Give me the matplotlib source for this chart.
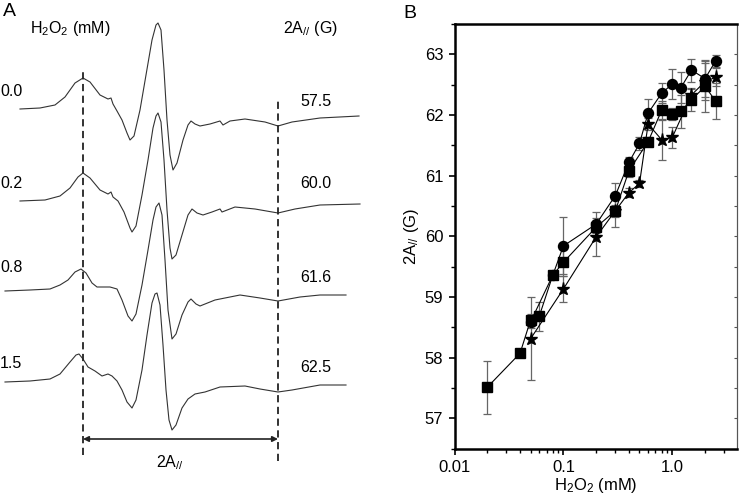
import numpy as np
import matplotlib
matplotlib.use("Agg")
import matplotlib.pyplot as plt
from matplotlib.ticker import FixedLocator, FixedFormatter, NullFormatter, LogLocator

plt.rcParams["font.family"] = ["Liberation Sans", "DejaVu Sans"]
plt.rcParams["mathtext.fontset"] = "custom"
plt.rcParams["mathtext.rm"] = "Liberation Sans"
plt.rcParams["mathtext.it"] = "Liberation Sans:italic"

# ---- panel A: EPR spectra (field in a.u., amplitude relative to left baseline)
conc_labels = ["0.0", "0.2", "0.8", "1.5"]
a_par_labels = ["57.5", "60.0", "61.6", "62.5"]

field_00 = [20, 40, 55, 65, 75, 83, 90, 100, 108, 111, 113, 117, 122, 127, 130, 134, 140, 146, 152, 156,
            158, 161, 164, 167, 170, 173, 177, 183, 188, 191, 195, 200, 210, 220, 223, 230, 245, 265,
            278, 292, 320, 359]
amp_00 = [0, 1, 4, 12, 26, 31, 27, 14, 10, 11, 5, -2, -11, -24, -31, -27, -1, 34, 69, 84,
          86, 79, 39, -11, -46, -61, -54, -31, -16, -12, -15, -17, -15, -12, -16, -12, -10, -13,
          -17, -13, -9, -7]

field_02 = [20, 45, 60, 70, 78, 83, 90, 100, 108, 111, 113, 118, 124, 130, 132, 136, 142, 148, 153, 156,
            158, 161, 164, 167, 170, 172, 176, 182, 188, 192, 197, 203, 212, 220, 222, 235, 255, 278,
            295, 320, 360]
amp_02 = [0, 1, 5, 13, 24, 28, 23, 11, 7, 9, 4, 0, -11, -27, -31, -25, 6, 41, 73, 85,
          88, 79, 41, -9, -47, -58, -54, -34, -14, -8, -12, -14, -11, -8, -11, -6, -8, -12,
          -8, -4, -3]

field_08 = [5, 30, 50, 60, 68, 75, 81, 86, 92, 97, 110, 117, 122, 128, 132, 136, 142, 148, 153, 156,
            159, 162, 165, 168, 172, 176, 182, 188, 191, 196, 200, 215, 240, 260, 278, 300, 320, 346]
amp_08 = [0, 1, 2, 6, 11, 19, 22, 18, 8, 4, 4, 2, -9, -25, -30, -23, 6, 41, 71, 84,
          88, 76, 31, -19, -48, -43, -24, -11, -8, -13, -15, -9, -4, -7, -10, -6, -4, -4]

field_15 = [5, 30, 50, 60, 70, 76, 79, 83, 88, 95, 102, 108, 112, 117, 122, 127, 132, 136, 142, 147,
            152, 155, 157, 160, 163, 166, 169, 172, 176, 182, 188, 195, 205, 220, 245, 260, 278, 292,
            320, 346]
amp_15 = [0, 1, 3, 8, 20, 27, 28, 23, 15, 11, 6, 8, 6, 1, -8, -20, -26, -18, 12, 47,
          79, 88, 89, 77, 37, -8, -38, -48, -43, -26, -17, -12, -10, -5, -4, -7, -10, -8,
          -3, -3]

# ---- panel B: 2A// vs H2O2
x_circ = [0.05, 0.08, 0.1, 0.2, 0.3, 0.4, 0.5, 0.6, 0.8, 1.0, 1.2, 1.5, 2.0, 2.5]
y_circ = [58.59, 59.36, 59.84, 60.20, 60.67, 61.22, 61.53, 62.03, 62.36, 62.51, 62.45, 62.74, 62.60, 62.89]
e_circ = [0.10, 0.05, 0.47, 0.20, 0.20, 0.08, 0.10, 0.24, 0.17, 0.25, 0.26, 0.19, 0.30, 0.10]

x_sq = [0.02, 0.04, 0.05, 0.06, 0.08, 0.1, 0.2, 0.3, 0.4, 0.6, 0.8, 1.0, 1.2, 1.5, 2.0, 2.5]
y_sq = [57.51, 58.07, 58.62, 58.68, 59.36, 59.57, 60.15, 60.42, 61.08, 61.56, 62.08, 62.02, 62.06, 62.25, 62.47, 62.23]
e_sq = [0.44, 0.05, 0.10, 0.24, 0.05, 0.22, 0.10, 0.26, 0.10, 0.08, 0.15, 0.10, 0.27, 0.19, 0.42, 0.29]

x_star = [0.05, 0.1, 0.2, 0.3, 0.4, 0.5, 0.6, 0.8, 1.0, 1.5, 2.0, 2.5]
y_star = [58.31, 59.13, 59.99, 60.42, 60.72, 60.87, 61.85, 61.59, 61.63, 62.33, 62.55, 62.62]
e_star = [0.68, 0.22, 0.31, 0.10, 0.08, 0.06, 0.10, 0.33, 0.17, 0.10, 0.30, 0.15]

fig = plt.figure(figsize=(7.39, 4.95), dpi=100)

# panel A drawn in a pixel-sized frame
axA = fig.add_axes([0, 0, 380 / 739, 1])
axA.set_xlim(0, 380)
axA.set_ylim(0, 495)
axA.axis("off")

offsets = [386, 294, 204, 113]
traces = [(field_00, amp_00), (field_02, amp_02), (field_08, amp_08), (field_15, amp_15)]
for (fx, fy), off in zip(traces, offsets):
    axA.plot(fx, np.array(fy) + off, color="#333333", lw=0.8)

axA.plot([83, 83], [40, 427], color="#222222", lw=1.3, ls=(0, (4, 2.5)))
axA.plot([278, 278], [34, 397], color="#222222", lw=1.3, ls=(0, (4, 2.5)))
axA.annotate("", xy=(278, 56), xytext=(83, 56),
             arrowprops=dict(arrowstyle="<|-|>", color="#222222", lw=1.2,
                             mutation_scale=8, shrinkA=0, shrinkB=0))
axA.text(170, 32, r"2A$_{\mathit{//}}$", ha="center", va="center", fontsize=11.5)

axA.text(3, 483, "A", ha="left", va="center", fontsize=14)
axA.text(70, 466, r"H$_2$O$_2$ (mM)", ha="center", va="center", fontsize=11.5)
axA.text(310, 466, r"2A$_{\mathit{//}}$ (G)", ha="center", va="center", fontsize=11.5)
for lab, yy in zip(conc_labels, [404, 312, 227, 131]):
    axA.text(0, yy, lab, ha="left", va="center", fontsize=11.5)
for lab, yy in zip(a_par_labels, [393, 311, 218, 128]):
    axA.text(316, yy, lab, ha="center", va="center", fontsize=11.5)

# panel B
axB = fig.add_axes([454.5 / 739, 46.5 / 495, (737 - 454.5) / 739, (471 - 46.5) / 495])
ekw = dict(ecolor="#666666", elinewidth=0.9, capsize=2.6, capthick=0.9)
axB.errorbar(x_sq, y_sq, yerr=e_sq, fmt="s", color="black", ms=6.8, lw=0.8, ls="-", **ekw)
axB.errorbar(x_star, y_star, yerr=e_star, fmt="*", color="black", ms=9.5, lw=0.8, ls="-", **ekw)
axB.errorbar(x_circ, y_circ, yerr=e_circ, fmt="o", color="black", ms=7.2, lw=0.8, ls="-", **ekw)

axB.set_xscale("log")
axB.set_xlim(0.01, 3.93)
axB.set_ylim(56.5, 63.5)
axB.xaxis.set_major_locator(FixedLocator([0.01, 0.1, 1.0]))
axB.xaxis.set_major_formatter(FixedFormatter(["0.01", "0.1", "1.0"]))
axB.xaxis.set_minor_locator(LogLocator(base=10, subs=np.arange(2, 10)))
axB.xaxis.set_minor_formatter(NullFormatter())
ymaj = [57, 58, 59, 60, 61, 62, 63]
ymin = np.arange(56.5, 63.6, 0.5)
axB.set_yticks(ymaj)
axB.set_yticks(ymin, minor=True)
axB.tick_params(axis="both", which="major", direction="out", length=4.5, width=1.2, labelsize=12)
axB.tick_params(axis="both", which="minor", direction="out", length=3, width=1.0)

# inward ticks on the right edge
sec = axB.secondary_yaxis("right")
sec.set_yticks(ymaj)
sec.set_yticks(ymin, minor=True)
sec.tick_params(which="both", direction="in", length=2.5, width=0.8, labelright=False, color="#555555")
sec.spines["right"].set_linewidth(0.8)
sec.spines["right"].set_color("#555555")

for side in ["left", "bottom", "top"]:
    axB.spines[side].set_linewidth(1.8)
axB.spines["right"].set_linewidth(0.8)
axB.spines["right"].set_color("#555555")

axB.set_xlabel(r"H$_2$O$_2$ (mM)", fontsize=12, labelpad=1)
axB.set_ylabel(r"2A$_{\mathit{//}}$ (G)", fontsize=12, labelpad=3)
fig.text(403 / 739, 1 - 13 / 495, "B", ha="left", va="center", fontsize=14)

fig.savefig("out.png", dpi=100)
